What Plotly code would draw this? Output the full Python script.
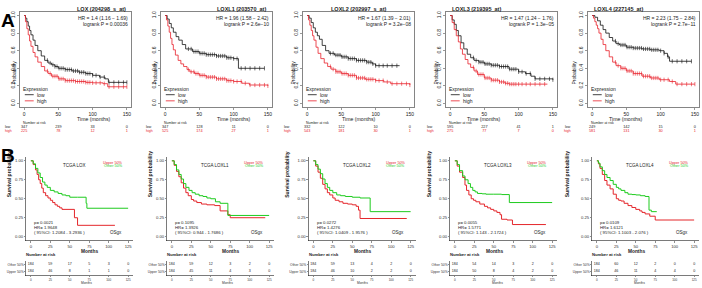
import numpy as np
import plotly.graph_objects as go

W, H = 702, 288
FONT = "Liberation Sans, Arial, sans-serif"
RED_A = "#E8202A"
RED_B = "#E4262B"
GREEN_B = "#1ECB1E"

# ---------------- Panel A data (KM plotter) ----------------
A_titles = ["LOX (204298_s_at)", "LOXL1 (203570_at)", "LOXL2 (202997_s_at)",
            "LOXL3 (219395_at)", "LOXL4 (227145_at)"]
A_hr = ["HR = 1.4 (1.16 \u2212 1.69)", "HR = 1.96 (1.58 \u2212 2.42)", "HR = 1.67 (1.39 \u2212 2.01)",
        "HR = 1.47 (1.24 \u2212 1.76)", "HR = 2.23 (1.75 \u2212 2.84)"]
A_p = ["logrank P = 0.00036", "logrank P = 2.6e\u221210", "logrank P = 3.2e\u221208",
       "logrank P = 1.3e\u221205", "logrank P = 2.7e\u221211"]

A1_low_t = [0, 2, 4, 6, 8, 10, 13, 16, 20, 25, 30, 35, 40, 45, 50, 60, 70, 80, 90, 100, 110, 118, 123, 150]
A1_low_s = [1.0, 0.97, 0.93, 0.88, 0.83, 0.78, 0.72, 0.66, 0.6, 0.54, 0.49, 0.46, 0.44, 0.42, 0.40, 0.385, 0.37, 0.355, 0.34, 0.32, 0.30, 0.28, 0.24, 0.24]
A1_high_t = [0, 2, 4, 6, 8, 10, 13, 16, 20, 25, 30, 35, 40, 50, 60, 75, 90, 100, 115, 122, 150]
A1_high_s = [1.0, 0.93, 0.85, 0.78, 0.71, 0.65, 0.58, 0.53, 0.47, 0.42, 0.37, 0.34, 0.31, 0.28, 0.26, 0.25, 0.24, 0.235, 0.225, 0.19, 0.19]

A2_low_t = [0, 3, 6, 9, 12, 16, 20, 25, 30, 40, 50, 60, 75, 90, 100, 107, 145]
A2_low_s = [1.0, 0.96, 0.91, 0.86, 0.81, 0.76, 0.72, 0.67, 0.62, 0.59, 0.57, 0.555, 0.54, 0.52, 0.51, 0.40, 0.40]
A2_high_t = [0, 2, 4, 6, 8, 10, 12, 15, 19, 23, 27, 32, 36, 43, 50, 60, 75, 90, 100, 112, 123, 150]
A2_high_s = [1.0, 0.95, 0.88, 0.81, 0.74, 0.67, 0.61, 0.55, 0.49, 0.45, 0.42, 0.385, 0.36, 0.34, 0.32, 0.30, 0.28, 0.26, 0.25, 0.23, 0.21, 0.20]

A3_low_t = [0, 3, 6, 9, 12, 15, 18, 22, 27, 32, 40, 50, 60, 72, 87, 95, 100, 135]
A3_low_s = [1.0, 0.97, 0.92, 0.86, 0.81, 0.77, 0.73, 0.66, 0.60, 0.57, 0.55, 0.53, 0.51, 0.49, 0.47, 0.45, 0.43, 0.43]
A3_high_t = [0, 2, 4, 6, 8, 10, 13, 16, 20, 25, 30, 35, 42, 50, 60, 72, 85, 100, 112, 122, 150]
A3_high_s = [1.0, 0.95, 0.89, 0.83, 0.77, 0.72, 0.64, 0.57, 0.51, 0.46, 0.42, 0.39, 0.36, 0.34, 0.32, 0.29, 0.275, 0.26, 0.245, 0.225, 0.21]

A4_low_t = [0, 3, 6, 9, 12, 16, 20, 25, 30, 35, 42, 50, 60, 72, 86, 100, 110, 118, 124, 150]
A4_low_s = [1.0, 0.95, 0.9, 0.83, 0.77, 0.69, 0.62, 0.56, 0.52, 0.49, 0.47, 0.45, 0.435, 0.42, 0.39, 0.36, 0.34, 0.31, 0.28, 0.27]
A4_high_t = [0, 3, 6, 9, 12, 15, 18, 22, 26, 30, 35, 40, 50, 60, 72, 80, 86, 142]
A4_high_s = [1.0, 0.92, 0.84, 0.77, 0.70, 0.62, 0.56, 0.50, 0.45, 0.41, 0.37, 0.33, 0.29, 0.265, 0.245, 0.23, 0.22, 0.22]

A5_low_t = [0, 4, 8, 12, 16, 20, 25, 30, 35, 40, 50, 60, 73, 85, 98, 105, 110, 113, 145]
A5_low_s = [1.0, 0.98, 0.94, 0.89, 0.84, 0.80, 0.75, 0.71, 0.68, 0.665, 0.64, 0.63, 0.62, 0.61, 0.60, 0.57, 0.53, 0.48, 0.48]
A5_high_t = [0, 2, 4, 6, 8, 10, 13, 16, 20, 25, 30, 35, 42, 50, 60, 73, 85, 98, 113, 122, 150]
A5_high_s = [1.0, 0.97, 0.93, 0.89, 0.85, 0.80, 0.73, 0.67, 0.60, 0.53, 0.47, 0.43, 0.40, 0.37, 0.34, 0.31, 0.29, 0.27, 0.25, 0.22, 0.22]

A_low = [(A1_low_t, A1_low_s), (A2_low_t, A2_low_s), (A3_low_t, A3_low_s), (A4_low_t, A4_low_s), (A5_low_t, A5_low_s)]
A_high = [(A1_high_t, A1_high_s), (A2_high_t, A2_high_s), (A3_high_t, A3_high_s), (A4_high_t, A4_high_s), (A5_high_t, A5_high_s)]

# censoring times (months) shown as tick marks
A_censor = [34, 38, 42, 45, 48, 51, 54, 57, 60, 63, 66, 69, 72, 75, 78, 81, 84, 87, 90, 93, 96,
            100, 105, 111, 117, 124, 131, 138, 145, 150]

A_risk_times = [0, 50, 100, 150]
A_risk_low = [[347, 239, 33, 0], [347, 128, 11, 0], [332, 122, 10, 0], [595, 227, 41, 1], [249, 142, 15, 0]]
A_risk_high = [[225, 78, 12, 1], [525, 174, 27, 1], [543, 181, 30, 1], [275, 77, 7, 0], [581, 131, 30, 1]]

# ---------------- Panel B data (TCGA) ----------------
B_titles = ["TCGA LOX", "TCGA LOXL1", "TCGA LOXL2", "TCGA LOXL3", "TCGA LOXL4"]
B_p = ["p= 0.0021", "p= 0.1095", "p= 0.0272", "p= 0.0055", "p= 0.0109"]
B_hr = ["HR= 1.9648", "HR= 1.3926", "HR= 1.4276", "HR= 1.5771", "HR= 1.6121"]
B_ci = ["( 95%CI: 1.2084 - 3.2936 )", "( 95%CI: 0.944 - 1.7686 )", "( 95%CI: 1.0409 - 1.9576 )",
        "( 95%CI: 1.143 - 2.1724 )", "( 95%CI: 1.1003 - 2.076 )"]

B1_up_t = [0, 3, 6, 8, 10, 12, 14, 16, 19, 22, 25, 28, 31, 34, 37, 40, 56, 60, 108]
B1_up_s = [1.0, 0.95, 0.88, 0.82, 0.75, 0.70, 0.64, 0.58, 0.54, 0.51, 0.48, 0.45, 0.42, 0.40, 0.38, 0.36, 0.25, 0.15, 0.15]
B1_ot_t = [0, 3, 6, 9, 12, 15, 18, 21, 25, 30, 35, 40, 45, 50, 60, 71, 72, 125]
B1_ot_s = [1.0, 0.96, 0.90, 0.84, 0.78, 0.72, 0.68, 0.65, 0.61, 0.59, 0.57, 0.55, 0.54, 0.52, 0.52, 0.44, 0.375, 0.375]

B2_up_t = [0, 3, 6, 9, 12, 15, 18, 21, 25, 28, 32, 38, 45, 55, 62, 72, 75, 120]
B2_up_s = [1.0, 0.94, 0.86, 0.79, 0.71, 0.64, 0.58, 0.54, 0.49, 0.47, 0.45, 0.43, 0.42, 0.41, 0.34, 0.29, 0.25, 0.25]
B2_ot_t = [0, 3, 6, 9, 12, 15, 18, 22, 26, 30, 35, 40, 45, 50, 56, 62, 72, 125]
B2_ot_s = [1.0, 0.95, 0.88, 0.82, 0.76, 0.70, 0.65, 0.61, 0.58, 0.56, 0.54, 0.53, 0.51, 0.50, 0.46, 0.44, 0.28, 0.28]

B3_up_t = [0, 3, 6, 9, 12, 15, 18, 21, 25, 28, 33, 38, 44, 50, 55, 58, 60, 120]
B3_up_s = [1.0, 0.93, 0.85, 0.77, 0.69, 0.63, 0.58, 0.55, 0.51, 0.48, 0.46, 0.44, 0.43, 0.42, 0.40, 0.35, 0.24, 0.24]
B3_ot_t = [0, 3, 6, 9, 12, 15, 18, 21, 25, 30, 35, 41, 50, 60, 73, 125]
B3_ot_s = [1.0, 0.95, 0.89, 0.83, 0.76, 0.70, 0.65, 0.61, 0.58, 0.55, 0.54, 0.53, 0.52, 0.51, 0.33, 0.33]

B4_up_t = [0, 3, 6, 10, 13, 15, 18, 21, 24, 27, 32, 38, 42, 46, 50, 54, 58, 60, 67, 74, 117]
B4_up_s = [1.0, 0.93, 0.85, 0.78, 0.68, 0.61, 0.55, 0.50, 0.48, 0.46, 0.43, 0.40, 0.38, 0.36, 0.34, 0.32, 0.29, 0.23, 0.22, 0.16, 0.16]
B4_ot_t = [0, 3, 6, 10, 13, 17, 20, 23, 26, 29, 35, 40, 50, 60, 70, 125]
B4_ot_s = [1.0, 0.95, 0.87, 0.80, 0.75, 0.70, 0.65, 0.61, 0.59, 0.57, 0.565, 0.56, 0.56, 0.555, 0.45, 0.45]

B5_up_t = [0, 2, 4, 7, 10, 13, 17, 21, 25, 28, 31, 35, 40, 45, 50, 55, 58, 62, 68, 75, 125]
B5_up_s = [1.0, 0.96, 0.90, 0.82, 0.74, 0.68, 0.63, 0.56, 0.50, 0.48, 0.47, 0.44, 0.41, 0.385, 0.36, 0.34, 0.32, 0.30, 0.27, 0.22, 0.22]
B5_ot_t = [0, 2, 4, 7, 10, 13, 17, 21, 25, 28, 31, 36, 40, 45, 50, 56, 62, 67, 70, 77]
B5_ot_s = [1.0, 0.97, 0.92, 0.87, 0.82, 0.78, 0.74, 0.69, 0.65, 0.63, 0.61, 0.58, 0.56, 0.555, 0.55, 0.54, 0.53, 0.35, 0.33, 0.33]

B_up = [(B1_up_t, B1_up_s), (B2_up_t, B2_up_s), (B3_up_t, B3_up_s), (B4_up_t, B4_up_s), (B5_up_t, B5_up_s)]
B_ot = [(B1_ot_t, B1_ot_s), (B2_ot_t, B2_ot_s), (B3_ot_t, B3_ot_s), (B4_ot_t, B4_ot_s), (B5_ot_t, B5_ot_s)]

B_risk_times = [0, 25, 50, 75, 100, 125]
B_risk_other = [[184, 59, 17, 5, 3, 0], [184, 59, 12, 3, 2, 0], [184, 59, 13, 4, 2, 0],
                [184, 54, 14, 3, 2, 0], [184, 60, 12, 2, 0, 0]]
B_risk_upper = [[184, 46, 8, 1, 1, 0], [184, 45, 11, 4, 3, 0], [184, 46, 10, 2, 2, 0],
                [184, 50, 8, 4, 2, 0], [184, 46, 11, 4, 4, 0]]

# ---------------- helpers ----------------
def fx(p):
    return p / W

def fy(p):
    return 1 - p / H

def step_value(t, s, c):
    idx = np.searchsorted(np.asarray(t), c, side="right") - 1
    return np.asarray(s)[idx]

fig = go.Figure()
layout = {}
ann = []
shapes = []

def ax_key(kind, n):
    return f"{kind}axis" if n == 1 else f"{kind}axis{n}"

def ref(kind, n):
    return kind if n == 1 else f"{kind}{n}"

# ---------------- Row A ----------------
A_lefts = [20, 161, 303, 446, 588]
A_w = 111
A_top, A_bot = 12, 107
for i in range(5):
    n = i + 1
    L = A_lefts[i]
    layout[ax_key("x", n)] = dict(
        domain=[fx(L), fx(L + A_w)], range=[-6, 156], anchor=ref("y", n),
        tickvals=[0, 50, 100, 150], showline=True, mirror=True, linecolor="#333", linewidth=0.6,
        ticks="outside", ticklen=2, tickwidth=0.5, tickcolor="#333",
        tickfont=dict(size=5, family=FONT, color="#222"), showgrid=False, zeroline=False,
        automargin=False)
    layout[ax_key("y", n)] = dict(
        domain=[fy(A_bot), fy(A_top)], range=[-0.04, 1.04], anchor=ref("x", n),
        tickvals=[0, 0.2, 0.4, 0.6, 0.8, 1.0], ticktext=["0.0", "0.2", "0.4", "0.6", "0.8", "1.0"],
        tickangle=-90, showline=True, mirror=True, linecolor="#333", linewidth=0.6,
        ticks="outside", ticklen=2, tickwidth=0.5, tickcolor="#333",
        tickfont=dict(size=5, family=FONT, color="#222"), showgrid=False, zeroline=False,
        automargin=False)
    xr, yr = ref("x", n), ref("y", n)
    for (t, s), col in ((A_low[i], "#111111"), (A_high[i], RED_A)):
        fig.add_trace(go.Scatter(x=t, y=s, mode="lines", line=dict(color=col, width=0.8, shape="hv"),
                                 xaxis=xr, yaxis=yr, showlegend=False, hoverinfo="skip"))
        cens = [c for c in A_censor if c <= t[-1]]
        fig.add_trace(go.Scatter(x=cens, y=[step_value(t, s, c) for c in cens], mode="markers",
                                 marker=dict(symbol="line-ns", size=3, line=dict(color=col, width=0.6)),
                                 xaxis=xr, yaxis=yr, showlegend=False, hoverinfo="skip"))
    # texts
    ann.append(dict(text=f"<b>{A_titles[i]}</b>", x=fx(L + A_w / 2), y=fy(5), xref="paper", yref="paper",
                    showarrow=False, font=dict(size=5.5, family=FONT, color="#222")))
    ann.append(dict(text="Probability", x=fx(L - 11), y=fy((A_top + A_bot) / 2), xref="paper", yref="paper",
                    textangle=-90, showarrow=False, font=dict(size=5, family=FONT, color="#222")))
    ann.append(dict(text="Time (months)", x=fx(L + A_w / 2), y=fy(119), xref="paper", yref="paper",
                    showarrow=False, font=dict(size=5.2, family=FONT, color="#222")))
    ann.append(dict(text=A_hr[i], x=153, y=0.975, xref=xr, yref=yr, xanchor="right", showarrow=False,
                    font=dict(size=5, family=FONT, color="#222")))
    ann.append(dict(text=A_p[i], x=153, y=0.90, xref=xr, yref=yr, xanchor="right", showarrow=False,
                    font=dict(size=5, family=FONT, color="#222")))
    ann.append(dict(text="Expression", x=-3, y=0.17, xref=xr, yref=yr, xanchor="left", showarrow=False,
                    font=dict(size=5, family=FONT, color="#222")))
    for yy, lab, col in ((0.10, "low", "#111111"), (0.03, "high", RED_A)):
        shapes.append(dict(type="line", x0=1, x1=14, y0=yy, y1=yy, xref=xr, yref=yr,
                           line=dict(color=col, width=0.8)))
        ann.append(dict(text=lab, x=17, y=yy, xref=xr, yref=yr, xanchor="left", showarrow=False,
                        font=dict(size=5, family=FONT, color="#222")))
    # risk table
    m = 15 + n
    layout[ax_key("x", m)] = dict(domain=[fx(L), fx(L + A_w)], range=[-6, 156], anchor=ref("y", m),
                                  visible=False)
    layout[ax_key("y", m)] = dict(domain=[fy(133), fy(121)], range=[0.5, 3.5], anchor=ref("x", m),
                                  visible=False)
    xr2, yr2 = ref("x", m), ref("y", m)
    fig.add_trace(go.Scatter(x=A_risk_times, y=[2] * 4, mode="text", text=[str(v) for v in A_risk_low[i]],
                             textfont=dict(size=3.8, family=FONT, color="#222"), xaxis=xr2, yaxis=yr2,
                             showlegend=False, hoverinfo="skip"))
    fig.add_trace(go.Scatter(x=A_risk_times, y=[1] * 4, mode="text", text=[str(v) for v in A_risk_high[i]],
                             textfont=dict(size=3.8, family=FONT, color=RED_A), xaxis=xr2, yaxis=yr2,
                             showlegend=False, hoverinfo="skip"))
    ann.append(dict(text="Number at risk", x=-3, y=3, xref=xr2, yref=yr2, xanchor="left", showarrow=False,
                    font=dict(size=3.5, family=FONT, color="#222")))
    ann.append(dict(text="low", x=fx(L - 16), y=2, xref="paper", yref=yr2, showarrow=False,
                    font=dict(size=3.5, family=FONT, color="#222")))
    ann.append(dict(text="high", x=fx(L - 16), y=1, xref="paper", yref=yr2, showarrow=False,
                    font=dict(size=3.5, family=FONT, color=RED_A)))

# ---------------- Row B ----------------
B_lefts = [26, 167, 308.5, 450, 592]
B_w = 107
B_top, B_bot = 157, 240.5
for i in range(5):
    n = 6 + i
    L = B_lefts[i]
    layout[ax_key("x", n)] = dict(
        domain=[fx(L), fx(L + B_w)], range=[-6.25, 131.25], anchor=ref("y", n),
        tickvals=B_risk_times, showline=True, linecolor="#222", linewidth=0.6,
        ticks="outside", ticklen=1.5, tickwidth=0.5, tickcolor="#222",
        tickfont=dict(size=4.2, family=FONT, color="#333"), showgrid=False, zeroline=False,
        automargin=False)
    layout[ax_key("y", n)] = dict(
        domain=[fy(B_bot), fy(B_top)], range=[-0.05, 1.05], anchor=ref("x", n),
        tickvals=[0, 0.25, 0.5, 0.75, 1.0], ticktext=["0.00", "0.25", "0.50", "0.75", "1.00"],
        showline=True, linecolor="#222", linewidth=0.6,
        ticks="outside", ticklen=1.5, tickwidth=0.5, tickcolor="#222",
        tickfont=dict(size=4.2, family=FONT, color="#333"), showgrid=False, zeroline=False,
        automargin=False)
    xr, yr = ref("x", n), ref("y", n)
    for (t, s), col in ((B_up[i], RED_B), (B_ot[i], GREEN_B)):
        fig.add_trace(go.Scatter(x=t, y=s, mode="lines", line=dict(color=col, width=1.0, shape="hv"),
                                 xaxis=xr, yaxis=yr, showlegend=False, hoverinfo="skip"))
    ann.append(dict(text=B_titles[i], x=56, y=0.94, xref=xr, yref=yr, showarrow=False,
                    font=dict(size=4.5, family=FONT, color="#222")))
    ann.append(dict(text="Upper 50%", x=106, y=0.975, xref=xr, yref=yr, showarrow=False,
                    font=dict(size=3.8, family=FONT, color=RED_B)))
    ann.append(dict(text="Other 50%", x=106, y=0.93, xref=xr, yref=yr, showarrow=False,
                    font=dict(size=3.8, family=FONT, color=GREEN_B)))
    for yy, txt in ((0.19, B_p[i]), (0.125, B_hr[i]), (0.06, B_ci[i])):
        ann.append(dict(text=txt, x=3, y=yy, xref=xr, yref=yr, xanchor="left", showarrow=False,
                        font=dict(size=4.3, family=FONT, color="#222")))
    ann.append(dict(text="OSgx", x=109, y=0.06, xref=xr, yref=yr, showarrow=False,
                    font=dict(size=4.5, family=FONT, color="#222")))
    ann.append(dict(text="<b>Survival probability</b>", x=fx(L - 21), y=fy((B_top + B_bot) / 2),
                    xref="paper", yref="paper", textangle=-90, showarrow=False,
                    font=dict(size=5, family=FONT, color="#222")))
    ann.append(dict(text="<b>Months</b>", x=fx(L + B_w / 2), y=fy(254.5), xref="paper", yref="paper",
                    showarrow=False, font=dict(size=4.8, family=FONT, color="#222")))
    # risk table
    m = 11 + i
    layout[ax_key("x", m)] = dict(
        domain=[fx(L), fx(L + B_w)], range=[-6.25, 131.25], anchor=ref("y", m),
        tickvals=B_risk_times, showline=True, linecolor="#222", linewidth=0.6,
        ticks="outside", ticklen=1, tickwidth=0.5, tickcolor="#222",
        tickfont=dict(size=3.0, family=FONT, color="#333"), showgrid=False, zeroline=False,
        automargin=False)
    layout[ax_key("y", m)] = dict(
        domain=[fy(275.5), fy(260.5)], range=[0.4, 2.6], anchor=ref("x", m),
        tickvals=[1, 2], ticktext=["Upper 50%", "Other 50%"], showline=True, linecolor="#222",
        linewidth=0.6, ticks="outside", ticklen=1, tickwidth=0.5, tickcolor="#222",
        tickfont=dict(size=3.4, family=FONT, color="#333"), showgrid=False, zeroline=False,
        automargin=False)
    xr2, yr2 = ref("x", m), ref("y", m)
    fig.add_trace(go.Scatter(x=B_risk_times, y=[2] * 6, mode="text", text=[str(v) for v in B_risk_other[i]],
                             textfont=dict(size=3.6, family=FONT, color="#222"), xaxis=xr2, yaxis=yr2,
                             showlegend=False, hoverinfo="skip"))
    fig.add_trace(go.Scatter(x=B_risk_times, y=[1] * 6, mode="text", text=[str(v) for v in B_risk_upper[i]],
                             textfont=dict(size=3.6, family=FONT, color="#222"), xaxis=xr2, yaxis=yr2,
                             showlegend=False, hoverinfo="skip"))
    ann.append(dict(text="<b>Number at risk</b>", x=fx(L - 1), y=fy(257.5), xref="paper", yref="paper",
                    xanchor="left", showarrow=False, font=dict(size=4.2, family=FONT, color="#222")))
    ann.append(dict(text="Months", x=fx(L + B_w / 2), y=fy(286), xref="paper", yref="paper",
                    showarrow=False, font=dict(size=3.3, family=FONT, color="#333")))

# panel letters
ann.append(dict(text="<b>A</b>", x=fx(0), y=fy(9), xref="paper", yref="paper", xanchor="left",
                showarrow=False, font=dict(size=19, family=FONT, color="#000")))
ann.append(dict(text="<b>B</b>", x=fx(0), y=fy(155), xref="paper", yref="paper", xanchor="left",
                showarrow=False, font=dict(size=19, family=FONT, color="#000")))

for a in ann:
    a["borderpad"] = 0

fig.update_layout(**layout)
fig.update_layout(width=W, height=H, margin=dict(l=0, r=0, t=0, b=0), paper_bgcolor="white",
                  plot_bgcolor="white", annotations=ann, shapes=shapes, showlegend=False,
                  font=dict(family=FONT))
fig.write_html("out.html", config={"displayModeBar": False, "staticPlot": True},
               post_script="document.body.style.margin='0';document.body.style.padding='0';"
                           "document.body.style.overflow='hidden';")
